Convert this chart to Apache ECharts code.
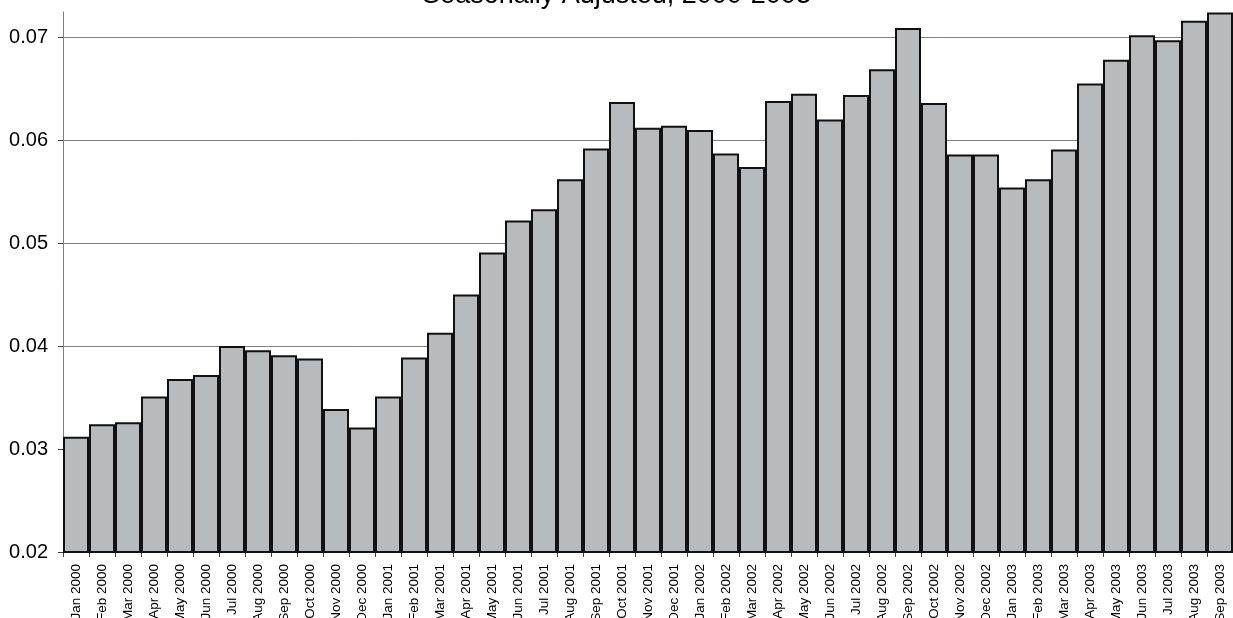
<!DOCTYPE html>
<html>
<head>
<meta charset="utf-8">
<script src="https://cdn.jsdelivr.net/npm/echarts@6/dist/echarts.min.js"></script>
<style>
  html, body { margin: 0; padding: 0; background: #ffffff; }
  #chart { width: 1233px; height: 618px; }
</style>
</head>
<body>
<div id="chart"></div>
<script>
// Monthly categories, Jan 2000 – Sep 2003
const months = [
  'Jan 2000','Feb 2000','Mar 2000','Apr 2000','May 2000','Jun 2000','Jul 2000','Aug 2000','Sep 2000','Oct 2000','Nov 2000','Dec 2000',
  'Jan 2001','Feb 2001','Mar 2001','Apr 2001','May 2001','Jun 2001','Jul 2001','Aug 2001','Sep 2001','Oct 2001','Nov 2001','Dec 2001',
  'Jan 2002','Feb 2002','Mar 2002','Apr 2002','May 2002','Jun 2002','Jul 2002','Aug 2002','Sep 2002','Oct 2002','Nov 2002','Dec 2002',
  'Jan 2003','Feb 2003','Mar 2003','Apr 2003','May 2003','Jun 2003','Jul 2003','Aug 2003','Sep 2003'
];

// Seasonally adjusted monthly rate
const rates = [
  0.0312, 0.0324, 0.0326, 0.0351, 0.0368, 0.0372, 0.0400, 0.0396, 0.0391, 0.0388, 0.0339, 0.0321,
  0.0351, 0.0389, 0.0413, 0.0450, 0.0491, 0.0522, 0.0533, 0.0562, 0.0592, 0.0637, 0.0612, 0.0614,
  0.0610, 0.0587, 0.0574, 0.0638, 0.0645, 0.0620, 0.0644, 0.0669, 0.0709, 0.0636, 0.0586, 0.0586,
  0.0554, 0.0562, 0.0591, 0.0655, 0.0678, 0.0702, 0.0697, 0.0716, 0.0724
];

// Value-axis tick positions
const yTicks = [0.02, 0.03, 0.04, 0.05, 0.06, 0.07];

const titleText = 'Seasonally Adjusted, 2000-2003';
const font = 'Arial, "Liberation Sans", sans-serif';

const chart = echarts.init(document.getElementById('chart'), null, { renderer: 'canvas' });

chart.setOption({
  animation: false,
  backgroundColor: '#ffffff',
  title: {
    text: titleText,
    left: 'center',
    top: -23,
    textStyle: { fontFamily: font, fontSize: 27, fontWeight: 'normal', color: '#000' }
  },
  grid: { left: 63, right: 0, top: 12, bottom: 66, containLabel: false, outerBoundsMode: 'none' },
  xAxis: {
    type: 'category',
    data: months,
    boundaryGap: true,
    axisLine: { show: true, lineStyle: { color: '#444', width: 1 } },
    axisTick: { show: true, alignWithLabel: false, length: 5, lineStyle: { color: '#444' } },
    axisLabel: {
      interval: 0,
      rotate: 90,
      margin: 12,
      fontFamily: font,
      fontSize: 13.5,
      color: '#000'
    },
    splitLine: { show: false }
  },
  yAxis: {
    type: 'value',
    min: 0.02,
    max: 0.07245,
    interval: 0.01,
    axisLine: { show: true, lineStyle: { color: '#808080', width: 1 } },
    axisTick: { show: true, length: 5, lineStyle: { color: '#444' }, customValues: yTicks },
    axisLabel: {
      customValues: yTicks,
      margin: 15,
      fontFamily: font,
      fontSize: 20,
      color: '#000',
      formatter: v => v.toFixed(2)
    },
    splitLine: { show: true, lineStyle: { color: '#808080', width: 1 } }
  },
  series: [{
    type: 'bar',
    data: rates,
    barCategoryGap: '0%',
    itemStyle: { color: '#b7bbbd', borderColor: '#111', borderWidth: 2 }
  }]
});
</script>
</body>
</html>
